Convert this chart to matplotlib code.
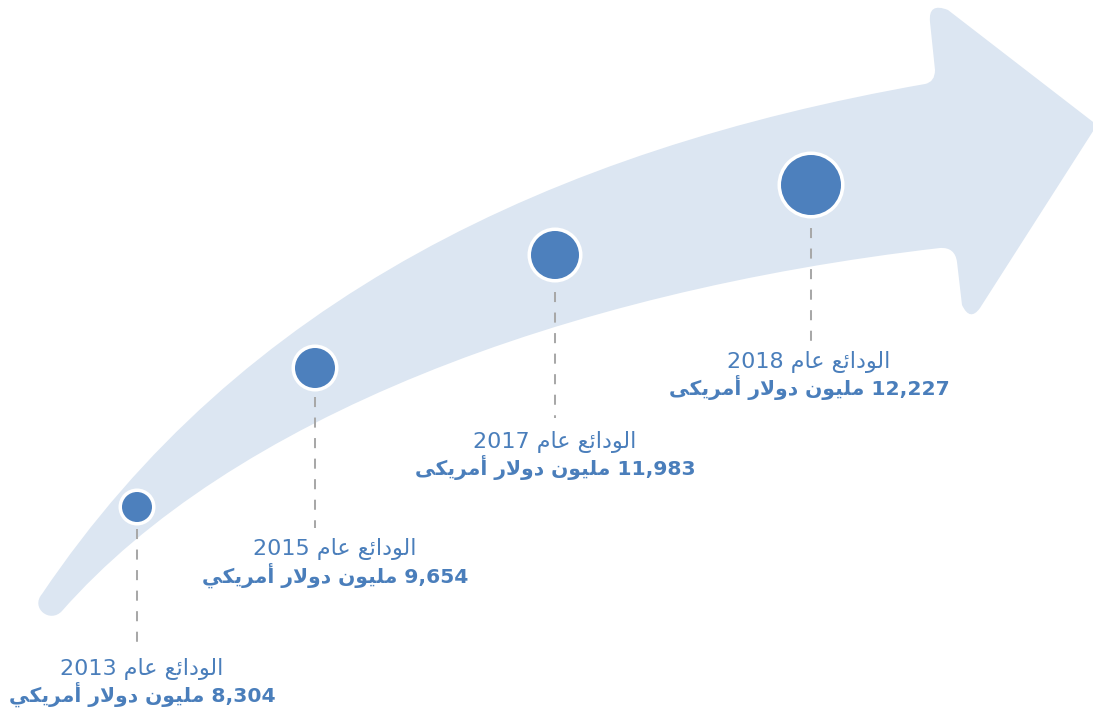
import re
import matplotlib
matplotlib.use("Agg")
import matplotlib.pyplot as plt
from matplotlib.path import Path
from matplotlib.patches import PathPatch, Circle

# ---------------- data ----------------
years = [2013, 2015, 2017, 2018]
deposits = [8304, 9654, 11983, 12227]          # million USD
label_prefix = "الودائع عام"
unit_words = ["مليون دولار أمريكي", "مليون دولار أمريكي",
              "مليون دولار أمريكى", "مليون دولار أمريكى"]

# ---------------- layout (pixel coordinates, y downward) ----------------
W, H = 1093, 714
circle_x = [137, 315, 555, 811]
circle_y = [507, 368, 255, 185]
circle_r = [15, 20, 24, 30]
label_x = [142, 335, 555, 809]
label_y1 = [675, 555, 448, 368]     # baseline of first line
label_y2 = [702, 583, 475, 395]     # baseline of second line
dash_top = [529, 397, 292, 228]
dash_bot = [648, 528, 418, 342]

ARROW = "#dce6f2"
DOT = "#4d80bd"
TEXT = "#4a7ebb"
DASH = "#a8a8a8"

# ---------------- minimal Arabic shaping (presentation forms + RTL) -------
FORMS = {
    '\u0623': (0xFE83, 0xFE84, None, None),
    '\u0626': (0xFE89, 0xFE8A, 0xFE8B, 0xFE8C),
    '\u0627': (0xFE8D, 0xFE8E, None, None),
    '\u062F': (0xFEA9, 0xFEAA, None, None),
    '\u0631': (0xFEAD, 0xFEAE, None, None),
    '\u0639': (0xFEC9, 0xFECA, 0xFECB, 0xFECC),
    '\u0643': (0xFED9, 0xFEDA, 0xFEDB, 0xFEDC),
    '\u0644': (0xFEDD, 0xFEDE, 0xFEDF, 0xFEE0),
    '\u0645': (0xFEE1, 0xFEE2, 0xFEE3, 0xFEE4),
    '\u0646': (0xFEE5, 0xFEE6, 0xFEE7, 0xFEE8),
    '\u0648': (0xFEED, 0xFEEE, None, None),
    '\u0649': (0xFEEF, 0xFEF0, None, None),
    '\u064A': (0xFEF1, 0xFEF2, 0xFEF3, 0xFEF4),
}
LAM_ALEF = {'\u0627': (0xFEFB, 0xFEFC), '\u0623': (0xFEF7, 0xFEF8)}


def shape_rtl(s):
    out = []
    i, n = 0, len(s)
    while i < n:
        c = s[i]
        if c not in FORMS:
            out.append(c)
            i += 1
            continue
        prev = s[i - 1] if i > 0 else ''
        joins_prev = prev in FORMS and FORMS[prev][2] is not None
        if c == '\u0644' and i + 1 < n and s[i + 1] in LAM_ALEF:
            iso, fin = LAM_ALEF[s[i + 1]]
            out.append(chr(fin if joins_prev else iso))
            i += 2
            continue
        nxt = s[i + 1] if i + 1 < n else ''
        joins_next = FORMS[c][2] is not None and nxt in FORMS
        iso, fin, ini, med = FORMS[c]
        if joins_prev and joins_next:
            g = med
        elif joins_prev:
            g = fin
        elif joins_next:
            g = ini
        else:
            g = iso
        out.append(chr(g))
        i += 1
    vis = ''.join(out)[::-1]
    return re.sub(r'[0-9][0-9,.]*', lambda m: m.group(0)[::-1], vis)


# ---------------- figure ----------------
fig = plt.figure(figsize=(W / 100, H / 100), dpi=100)
ax = fig.add_axes([0, 0, 1, 1])
ax.set_xlim(0, W)
ax.set_ylim(H, 0)
ax.axis('off')

# curved arrow
M, L, C3, C4, CL = Path.MOVETO, Path.LINETO, Path.CURVE3, Path.CURVE4, Path.CLOSEPOLY
verts = [
    (42, 594),                                   # tail, upper side
    (240, 300), (550, 150), (925, 84),           # upper edge
    (935, 82), (935, 70),                        # notch corner
    (930, 22),                                   # inner side of upper barb
    (928, 2), (948, 10),                         # rounded barb top
    (1097, 125),                                 # tip
    (980, 308),                                  # outer lower edge
    (970, 322), (962, 305),                      # rounded lower barb
    (957, 262),
    (955, 247), (940, 248),                      # lower notch corner
    (560, 292), (230, 420), (62, 611),           # lower edge back to tail
    (50, 624), (30, 608), (42, 594),             # rounded tail
    (42, 594),
]
codes = [M,
         C4, C4, C4,
         C3, C3,
         L,
         C3, C3,
         L,
         L,
         C3, C3,
         L,
         C3, C3,
         C4, C4, C4,
         C4, C4, C4,
         CL]
ax.add_patch(PathPatch(Path(verts, codes), facecolor=ARROW, edgecolor='none', zorder=1))

for i in range(len(years)):
    x, y, r = circle_x[i], circle_y[i], circle_r[i]
    ax.plot([x, x], [dash_top[i], dash_bot[i]], color=DASH, lw=1.45,
            dashes=(5, 5.2), zorder=2, dash_capstyle='butt')
    ax.add_patch(Circle((x, y), r + 3.5, facecolor='white', edgecolor='none', zorder=3))
    ax.add_patch(Circle((x, y), r, facecolor=DOT, edgecolor='none', zorder=4))

    line1 = f"{label_prefix} {years[i]}"
    line2 = f"{deposits[i]:,} {unit_words[i]}"
    ax.text(label_x[i], label_y1[i], shape_rtl(line1), ha='center', va='baseline',
            fontsize=16, color=TEXT, family='DejaVu Sans', zorder=5)
    ax.text(label_x[i], label_y2[i], shape_rtl(line2), ha='center', va='baseline',
            fontsize=14.6, color=TEXT, family='DejaVu Sans', fontweight='bold', zorder=5)

fig.savefig("out.png", dpi=100, facecolor='white')
